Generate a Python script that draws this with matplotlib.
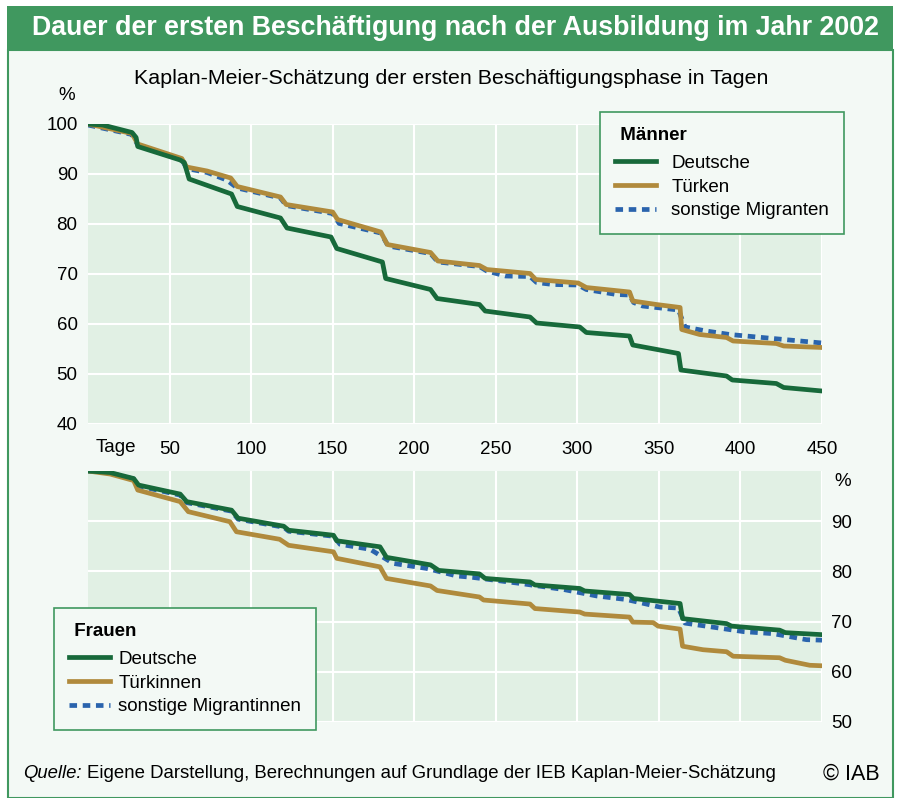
import matplotlib
matplotlib.use("Agg")
import matplotlib.pyplot as plt
from matplotlib.patches import Rectangle
from matplotlib.lines import Line2D

plt.rcParams['font.family'] = ['Liberation Sans', 'DejaVu Sans']

# --- data ---
# Maenner
m_deu_days = [0, 9, 27, 29.5, 30.5, 56.5, 59, 62, 88, 91.5, 118, 122, 149, 152.5, 180.5, 182.5, 210, 214,
              240, 243.5, 271, 275, 301.5, 305.5, 332, 334, 362, 363.5, 391.5, 395, 422, 426.5, 450]
m_deu_vals = [100, 99.8, 98.3, 97.3, 95.5, 92.8, 92.3, 89.0, 86.0, 83.5, 81.2, 79.2, 77.4, 75.1, 72.4, 69.1, 66.9, 65.1,
              63.9, 62.6, 61.4, 60.2, 59.4, 58.3, 57.6, 55.8, 54.1, 50.8, 49.6, 48.8, 48.1, 47.3, 46.6]

m_tur_days = [0, 27, 30.5, 57.5, 60.5, 73, 87.5, 91.5, 118, 121.5, 150, 153, 179.5, 183.5, 210, 214.5,
              240, 244.5, 271, 274.5, 300.5, 305.5, 332, 334, 348.5, 363, 364, 375, 391.5, 395.5, 422, 426.5, 450]
m_tur_vals = [100, 98.1, 96.0, 93.1, 91.4, 90.6, 89.2, 87.5, 85.4, 83.9, 82.4, 80.9, 78.4, 75.9, 74.3, 72.6,
              71.7, 70.9, 70.1, 68.9, 68.2, 67.3, 66.4, 64.6, 63.9, 63.3, 58.9, 57.9, 57.3, 56.6, 56.1, 55.6, 55.3]

m_mig_days = [0, 27, 30.5, 57.5, 60.5, 73, 85, 91.5, 118, 121.5, 150, 154, 179.5, 184, 210, 214.5,
              240, 244.5, 256, 271, 275, 285, 300.5, 305.5, 324, 332, 334.5, 340, 362, 366, 379, 393.5, 420, 450]
m_mig_vals = [99.8, 97.9, 95.8, 92.9, 91.1, 90.3, 88.8, 87.2, 85.2, 83.7, 82.1, 80.1, 78.2, 75.6, 74.1, 72.4,
              71.5, 70.6, 69.6, 69.5, 68.3, 67.9, 67.8, 66.9, 65.9, 65.8, 64.3, 63.6, 62.8, 59.4, 58.6, 57.9, 57.1, 56.2]

# Frauen
w_deu_days = [0, 13.5, 28, 31, 56.5, 60.5, 88, 92, 120, 123, 150.5, 152.5, 179, 183, 210, 215,
              240, 243.5, 271, 274, 301.5, 304.5, 332, 334.5, 363, 364.5, 391.5, 394.5, 424, 427.5, 450]
w_deu_vals = [100, 99.7, 98.5, 97.2, 95.4, 93.9, 92.2, 90.6, 89.0, 88.2, 87.2, 86.1, 84.9, 82.8, 81.3, 80.2,
              79.5, 78.6, 77.9, 77.3, 76.6, 76.1, 75.4, 74.6, 73.6, 70.6, 69.6, 69.1, 68.3, 67.8, 67.4]

w_tur_days = [0, 13.5, 28, 30.5, 56.5, 61.5, 87, 91, 117.5, 123, 150.5, 152.5, 179, 183, 210, 214,
              240, 242.5, 271, 274, 301.5, 304.5, 332, 334, 346.5, 349.5, 363, 364.5, 377, 391.5, 395.5,
              424, 427.5, 442.5, 450]
w_tur_vals = [100, 99.4, 98.1, 96.2, 93.9, 91.9, 89.9, 87.9, 86.4, 85.2, 83.9, 82.6, 80.9, 78.6, 77.1, 76.2,
              74.9, 74.3, 73.5, 72.6, 71.9, 71.5, 70.9, 69.9, 69.8, 69.1, 68.5, 65.1, 64.4, 64.0, 63.1,
              62.8, 62.3, 61.3, 61.2]

w_mig_days = [0, 13.5, 28, 31, 56.5, 60.5, 88, 92, 120, 123, 150.5, 154.5, 173, 187, 207.5, 226,
              236, 265, 291.5, 312, 330, 350.5, 362, 366, 383, 402, 420, 440.5, 450]
w_mig_vals = [100, 99.6, 98.4, 97.0, 95.2, 93.7, 92.0, 90.4, 88.8, 88.0, 87.0, 85.4, 84.4, 81.6, 80.6, 79.1,
              78.8, 77.6, 76.4, 75.1, 74.4, 72.9, 72.7, 69.7, 68.9, 68.0, 67.6, 66.4, 66.3]

x_ticks = [50, 100, 150, 200, 250, 300, 350, 400, 450]
m_labels = ['Deutsche', 'Türken', 'sonstige Migranten']
w_labels = ['Deutsche', 'Türkinnen', 'sonstige Migrantinnen']

# --- styles ---
W, H = 898, 798
GREEN = '#17693a'
TAN = '#b08a3c'
BLUE = '#2a64ad'
HEAD = '#40985f'
PANEL = '#f3f9f5'
PLOTBG = '#e1f0e4'
LW = 3.4
DASH = (1.6, 1.2)
FS = 13.5


def fx(x):
    return x / W


def fy(y):
    return 1 - y / H


fig = plt.figure(figsize=(W / 100, H / 100), dpi=100)
fig.patch.set_facecolor('white')

# panel and header
fig.patches.append(Rectangle((fx(7.5), 0), fx(892.5) - fx(7.5), fy(50) - 0, transform=fig.transFigure,
                             facecolor=PANEL, edgecolor=HEAD, lw=1.5, zorder=-10))
fig.patches.append(Rectangle((fx(7), fy(50)), fx(893) - fx(7), fy(5.5) - fy(50), transform=fig.transFigure,
                             facecolor=HEAD, edgecolor='none', zorder=-9))
fig.text(fx(456), fy(28), 'Dauer der ersten Beschäftigung nach der Ausbildung im Jahr 2002',
         color='white', fontsize=19.3, fontweight='bold', ha='center', va='center')
fig.text(fx(451), fy(78), 'Kaplan-Meier-Schätzung der ersten Beschäftigungsphase in Tagen',
         fontsize=15.4, ha='center', va='center')


def style_axes(ax, ymin):
    ax.set_facecolor(PLOTBG)
    ax.set_xlim(0, 450)
    ax.set_ylim(ymin, 100)
    ax.set_xticks(x_ticks)
    ax.grid(True, color='white', lw=1.5)
    ax.set_axisbelow(True)
    for s in ax.spines.values():
        s.set_visible(False)
    ax.tick_params(length=0, labelsize=FS)


# top: Maenner
ax1 = fig.add_axes([fx(88), fy(424), fx(822) - fx(88), fy(124) - fy(424)])
style_axes(ax1, 40)
ax1.set_yticks(range(40, 101, 10))
ax1.tick_params(axis='x', pad=12.5)
ax1.tick_params(axis='y', pad=7.5)
ax1.plot(m_mig_days, m_mig_vals, color=BLUE, lw=LW, dashes=DASH, dash_capstyle='butt')
ax1.plot(m_tur_days, m_tur_vals, color=TAN, lw=LW)
ax1.plot(m_deu_days, m_deu_vals, color=GREEN, lw=LW)
fig.text(fx(115.5), fy(447), 'Tage', fontsize=FS, ha='center', va='center')
fig.text(fx(67), fy(95), '%', fontsize=FS, ha='center', va='center')

# bottom: Frauen
ax2 = fig.add_axes([fx(88), fy(722), fx(822) - fx(88), fy(471) - fy(722)])
style_axes(ax2, 50)
ax2.set_yticks(range(50, 100, 10))
ax2.yaxis.tick_right()
ax2.tick_params(axis='y', pad=6.5)
ax2.tick_params(axis='x', labelbottom=False)
ax2.plot(w_mig_days, w_mig_vals, color=BLUE, lw=LW, dashes=DASH, dash_capstyle='butt')
ax2.plot(w_tur_days, w_tur_vals, color=TAN, lw=LW)
ax2.plot(w_deu_days, w_deu_vals, color=GREEN, lw=LW)
fig.text(fx(843), fy(481), '%', fontsize=FS, ha='center', va='center')


def make_legend(labels, title, x0, y0, textpad):
    handles = [Line2D([], [], color=GREEN, lw=LW),
               Line2D([], [], color=TAN, lw=LW),
               Line2D([], [], color=BLUE, lw=LW, dashes=DASH, dash_capstyle='butt')]
    leg = fig.legend(handles, labels, title=title, loc='upper left', bbox_to_anchor=(fx(x0), fy(y0)),
                     fontsize=FS, title_fontproperties={'weight': 'bold', 'size': FS},
                     alignment='left', frameon=True, fancybox=False, facecolor=PANEL,
                     edgecolor=HEAD, framealpha=1, handlelength=2.2, handletextpad=textpad,
                     labelspacing=0.35, borderpad=0.8, borderaxespad=0)
    leg.get_frame().set_linewidth(1.2)
    # a bit more room between title and entries
    leg._legend_box.sep = 0.35 * FS + 3
    return leg


make_legend(m_labels, ' Männer', 600, 112, 0.8)
make_legend(w_labels, ' Frauen', 54, 608, 0.43)

# footer
fig.text(fx(23), fy(773), 'Quelle:', fontsize=13.3, style='italic', ha='left', va='center')
fig.text(fx(87), fy(773), 'Eigene Darstellung, Berechnungen auf Grundlage der IEB Kaplan-Meier-Schätzung',
         fontsize=13.4, ha='left', va='center')
fig.text(fx(823), fy(774), '© IAB', fontsize=15.5, ha='left', va='center')

fig.savefig('out.png', dpi=100)
